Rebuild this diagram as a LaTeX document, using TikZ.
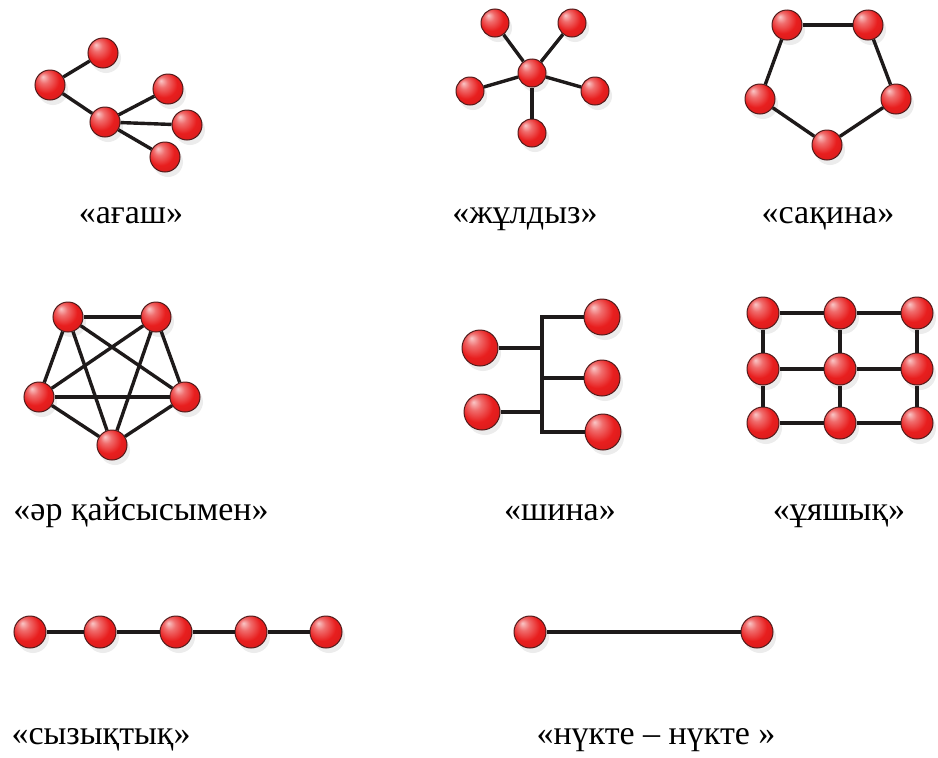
\documentclass[tikz,border=0pt]{standalone}
\usepackage{fontspec}
\setmainfont{Liberation Serif}
\usetikzlibrary{shadows}
\definecolor{ballred}{RGB}{232,30,30}
\definecolor{linkdark}{RGB}{30,26,26}
\pgfdeclareradialshading{redball}{\pgfpoint{-12bp}{14bp}}{%
  color(0bp)=(ballred!25!white); color(9bp)=(ballred!65!white);
  color(22bp)=(ballred); color(36bp)=(ballred!92!black); color(50bp)=(ballred!78!black)}

\begin{document}
\begin{tikzpicture}[x=1pt, y=-1pt,
  ball/.style={circle, draw=linkdark!75!ballred, line width=1pt, shading=redball, minimum size=30pt, inner sep=0pt,
    drop shadow={opacity=0.15, shadow xshift=3pt, shadow yshift=-5pt}},
  link/.style={draw=linkdark, line width=3.4pt},
  lbl/.style={font=\fontsize{34}{38}\selectfont, anchor=base, inner sep=0pt}
]
  \useasboundingbox (0,0) rectangle (938,758);

  % ағаш
  \node[ball] (t1) at (103,53) {};
  \node[ball] (t2) at (50,85) {};
  \node[ball] (t3) at (105,122) {};
  \node[ball] (t4) at (168,89) {};
  \node[ball] (t5) at (187,125) {};
  \node[ball] (t6) at (165,157) {};
  \draw[link] (t2) -- (t1);
  \draw[link] (t2) -- (t3);
  \draw[link] (t3) -- (t4);
  \draw[link] (t3) -- (t5);
  \draw[link] (t3) -- (t6);
  \node[lbl] (treelbl) at (131,223) {«ағаш»};

  % жұлдыз
  \node[ball, minimum size=28pt] (s0) at (532,73) {};
  \node[ball, minimum size=28pt] (s1) at (495,23) {};
  \node[ball, minimum size=28pt] (s2) at (572,23) {};
  \node[ball, minimum size=28pt] (s3) at (470,91) {};
  \node[ball, minimum size=28pt] (s4) at (595,91) {};
  \node[ball, minimum size=28pt] (s5) at (532,133) {};
  \foreach \i in {1,...,5} \draw[link] (s0) -- (s\i);
  \node[lbl] (starlbl) at (525,223) {«жұлдыз»};

  % сақина
  \node[ball] (r1) at (787,25) {};
  \node[ball] (r2) at (868,25) {};
  \node[ball] (r3) at (896,99) {};
  \node[ball] (r4) at (827,145) {};
  \node[ball] (r5) at (760,99) {};
  \draw[link] (r1) -- (r2);
  \draw[link] (r2) -- (r3);
  \draw[link] (r3) -- (r4);
  \draw[link] (r4) -- (r5);
  \draw[link] (r5) -- (r1);
  \node[lbl] (ringlbl) at (828,223) {«сақина»};

  % әр қайсысымен
  \node[ball] (m1) at (68,317) {};
  \node[ball] (m2) at (156,317) {};
  \node[ball] (m3) at (185,397) {};
  \node[ball] (m4) at (112,445) {};
  \node[ball] (m5) at (39,397) {};
  \foreach \a/\b in {1/2,1/3,1/4,1/5,2/3,2/4,2/5,3/4,3/5,4/5}
    \draw[link] (m\a) -- (m\b);
  \node[lbl] (meshlbl) at (141,520) {«әр қайсысымен»};

  % шина
  \node[ball, minimum size=36pt] (b1) at (480,348) {};
  \node[ball, minimum size=36pt] (b2) at (482,412) {};
  \node[ball, minimum size=36pt] (b3) at (602,317) {};
  \node[ball, minimum size=36pt] (b4) at (602,378) {};
  \node[ball, minimum size=36pt] (b5) at (603,432) {};
  \coordinate (bus) at (542,0);
  \draw[link, line join=miter] (b3) -- (b3 -| bus) -- (b5 -| bus) -- (b5);
  \draw[link] (b1) -- (b1 -| bus);
  \draw[link] (b2) -- (b2 -| bus);
  \draw[link] (b4) -- (b4 -| bus);
  \node[lbl] (buslbl) at (560,520) {«шина»};

  % ұяшық
  \foreach \c/\x in {1/763,2/840,3/917}
    \foreach \r/\y in {1/313,2/369,3/423}
      \node[ball, minimum size=32pt] (g\r\c) at (\x,\y) {};
  \foreach \r in {1,2,3} {
    \draw[link] (g\r1) -- (g\r2);
    \draw[link] (g\r2) -- (g\r3);
    \draw[link] (g1\r) -- (g2\r);
    \draw[link] (g2\r) -- (g3\r);
  }
  \node[lbl] (gridlbl) at (839,520) {«ұяшық»};

  % сызықтық
  \foreach \i/\x in {1/30,2/100,3/176,4/251,5/326}
    \node[ball, minimum size=32pt] (l\i) at (\x,632) {};
  \foreach \a/\b in {1/2,2/3,3/4,4/5}
    \draw[link] (l\a) -- (l\b);
  \node[lbl] (linelbl) at (101,744) {«сызықтық»};

  % нүкте – нүкте
  \node[ball, minimum size=32pt] (p1) at (530,632) {};
  \node[ball, minimum size=32pt] (p2) at (757,632) {};
  \draw[link] (p1) -- (p2);
  \node[lbl] (ptplbl) at (656,744) {«нүкте – нүкте »};
\end{tikzpicture}
\end{document}
